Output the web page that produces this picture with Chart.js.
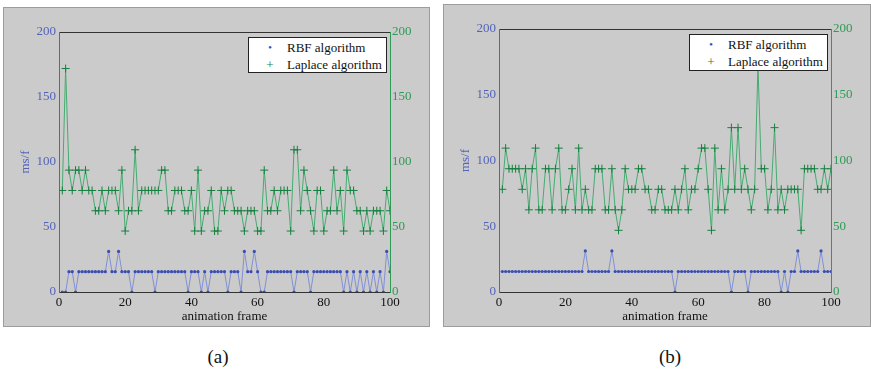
<!DOCTYPE html>
<html>
<head>
<meta charset="utf-8">
<script src="https://cdn.jsdelivr.net/npm/chart.js@4/dist/chart.umd.min.js"></script>
<style>
body { margin: 0; background: #fff; }
#wrap { position: relative; width: 871px; height: 372px; overflow: hidden; }
.panel { position: absolute; background: #cbcbcb; border: 1px solid #9c9c9c; box-sizing: border-box; }
canvas { position: absolute; }
.legend { position: absolute; width: 139px; height: 36px; background: #fff; border: 1px solid #222; box-sizing: border-box;
  font-family: 'Liberation Serif', 'Times New Roman', serif; font-size: 13px; color: #111; }
.legend .row { position: absolute; left: 38px; white-space: nowrap; line-height: 15px; }
.legend .mk { position: absolute; width: 12px; left: 15px; text-align: center; line-height: 15px; }
.caption { position: absolute; width: 60px; text-align: center; font-family: 'Liberation Serif', 'Times New Roman', serif;
  font-size: 19px; line-height: 22px; color: #111; }
</style>
</head>
<body>
<div id="wrap">
  <div class="panel" style="left:3px;top:7px;width:427px;height:320px"></div>
  <canvas id="chart_a" width="427" height="320" style="left:3px;top:7px"></canvas>
  <div class="legend" style="left:248px;top:37px">
    <span class="mk" style="top:2px;color:#3a4db0;font-size:6px">&#9679;</span><span class="row" style="top:2px">RBF algorithm</span>
    <span class="mk" style="top:19px;color:#17803f">+</span><span class="row" style="top:19px">Laplace algorithm</span>
  </div>
  <div class="caption" style="left:188px;top:346px">(a)</div>

  <div class="panel" style="left:443px;top:4px;width:428px;height:323px"></div>
  <canvas id="chart_b" width="428" height="323" style="left:443px;top:4px"></canvas>
  <div class="legend" style="left:689px;top:34px;height:37px">
    <span class="mk" style="top:2px;color:#3a4db0;font-size:6px">&#9679;</span><span class="row" style="top:2px">RBF algorithm</span>
    <span class="mk" style="top:19px;color:#17803f">+</span><span class="row" style="top:19px">Laplace algorithm</span>
  </div>
  <div class="caption" style="left:640px;top:346px">(b)</div>
</div>
<script>
// animation frame numbers (x axis)
var frames = [1, 2, 3, 4, 5, 6, 7, 8, 9, 10, 11, 12, 13, 14, 15, 16, 17, 18, 19, 20,
  21, 22, 23, 24, 25, 26, 27, 28, 29, 30, 31, 32, 33, 34, 35, 36, 37, 38, 39, 40,
  41, 42, 43, 44, 45, 46, 47, 48, 49, 50, 51, 52, 53, 54, 55, 56, 57, 58, 59, 60,
  61, 62, 63, 64, 65, 66, 67, 68, 69, 70, 71, 72, 73, 74, 75, 76, 77, 78, 79, 80,
  81, 82, 83, 84, 85, 86, 87, 88, 89, 90, 91, 92, 93, 94, 95, 96, 97, 98, 99, 100];

// (a) ms per frame
var rbf_a = [0, 0, 15.6, 15.6, 0, 15.6, 15.6, 15.6, 15.6, 15.6, 15.6, 15.6, 15.6, 15.6, 31.25, 15.6, 15.6, 31.25, 15.6, 15.6,
  15.6, 0, 15.6, 15.6, 15.6, 15.6, 15.6, 15.6, 0, 15.6, 15.6, 15.6, 15.6, 15.6, 15.6, 15.6, 15.6, 15.6, 0, 15.6,
  15.6, 15.6, 0, 15.6, 0, 15.6, 15.6, 15.6, 15.6, 15.6, 0, 15.6, 15.6, 15.6, 0, 31.25, 15.6, 15.6, 31.25, 15.6,
  0, 0, 15.6, 15.6, 15.6, 15.6, 15.6, 15.6, 15.6, 15.6, 0, 15.6, 15.6, 15.6, 15.6, 0, 15.6, 15.6, 15.6, 15.6,
  15.6, 15.6, 15.6, 15.6, 15.6, 0, 15.6, 0, 15.6, 0, 15.6, 0, 15.6, 0, 15.6, 0, 15.6, 0, 31.25, 15.6];
var laplace_a = [78.1, 171.9, 93.75, 78.1, 93.75, 93.75, 78.1, 93.75, 78.1, 78.1, 62.5, 62.5, 78.1, 62.5, 78.1, 78.1, 78.1, 62.5, 93.75, 46.9,
  62.5, 62.5, 109.4, 62.5, 78.1, 78.1, 78.1, 78.1, 78.1, 78.1, 93.75, 93.75, 62.5, 62.5, 78.1, 78.1, 78.1, 62.5, 62.5, 78.1,
  46.9, 93.75, 46.9, 62.5, 62.5, 78.1, 46.9, 46.9, 78.1, 62.5, 78.1, 78.1, 62.5, 62.5, 62.5, 46.9, 62.5, 62.5, 62.5, 46.9,
  46.9, 93.75, 62.5, 62.5, 78.1, 62.5, 78.1, 78.1, 78.1, 46.9, 109.4, 109.4, 62.5, 93.75, 78.1, 62.5, 46.9, 78.1, 78.1, 46.9,
  62.5, 62.5, 93.75, 62.5, 78.1, 46.9, 93.75, 78.1, 78.1, 62.5, 62.5, 46.9, 62.5, 46.9, 62.5, 62.5, 62.5, 46.9, 78.1, 62.5];

// (b) ms per frame
var rbf_b = [15.6, 15.6, 15.6, 15.6, 15.6, 15.6, 15.6, 15.6, 15.6, 15.6, 15.6, 15.6, 15.6, 15.6, 15.6, 15.6, 15.6, 15.6, 15.6, 15.6,
  15.6, 15.6, 15.6, 15.6, 15.6, 31.25, 15.6, 15.6, 15.6, 15.6, 15.6, 15.6, 15.6, 31.25, 15.6, 15.6, 15.6, 15.6, 15.6, 15.6,
  15.6, 15.6, 15.6, 15.6, 15.6, 15.6, 15.6, 15.6, 15.6, 15.6, 15.6, 15.6, 0, 15.6, 15.6, 15.6, 15.6, 15.6, 15.6, 15.6,
  15.6, 15.6, 15.6, 15.6, 15.6, 15.6, 15.6, 15.6, 15.6, 0, 15.6, 15.6, 15.6, 15.6, 0, 15.6, 15.6, 15.6, 15.6, 15.6,
  15.6, 15.6, 15.6, 15.6, 0, 15.6, 0, 15.6, 15.6, 31.25, 15.6, 15.6, 15.6, 15.6, 15.6, 15.6, 31.25, 15.6, 15.6, 15.6];
var laplace_b = [78.1, 109.4, 93.75, 93.75, 93.75, 93.75, 78.1, 93.75, 62.5, 93.75, 109.4, 62.5, 62.5, 93.75, 93.75, 62.5, 93.75, 109.4, 62.5, 62.5,
  78.1, 93.75, 62.5, 109.4, 62.5, 78.1, 62.5, 62.5, 93.75, 93.75, 93.75, 62.5, 62.5, 93.75, 62.5, 46.9, 62.5, 93.75, 78.1, 78.1,
  78.1, 93.75, 93.75, 78.1, 78.1, 62.5, 62.5, 78.1, 78.1, 62.5, 62.5, 62.5, 78.1, 62.5, 78.1, 93.75, 62.5, 78.1, 78.1, 93.75,
  109.4, 109.4, 78.1, 46.9, 109.4, 62.5, 93.75, 62.5, 78.1, 125, 78.1, 125, 78.1, 93.75, 78.1, 62.5, 78.1, 171.9, 93.75, 93.75,
  62.5, 78.1, 125, 62.5, 78.1, 62.5, 78.1, 78.1, 78.1, 78.1, 46.9, 93.75, 93.75, 93.75, 93.75, 78.1, 78.1, 93.75, 78.1, 93.75];

var x_ticks = [0, 20, 40, 60, 80, 100];
var y_ticks = [0, 50, 100, 150, 200];

var serif = "'Liberation Serif', 'Times New Roman', serif";
var blue_text = '#5363b9';
var green_text = '#2f9a55';

function toPoints(values) {
    var pts = [];
    for (var i = 0; i < values.length; i++) {
        pts.push({ x: frames[i], y: values[i] });
    }
    return pts;
}

function fixedTicks(list) {
    return function (axis) {
        axis.ticks = list.map(function (v) { return { value: v }; });
    };
}

function buildPanelChart(canvasId, rbf, laplace, topPad, xHeight) {
    var ctx = document.getElementById(canvasId);
    return new Chart(ctx, {
        type: 'line',
        data: {
            datasets: [{
                label: 'RBF algorithm',
                data: toPoints(rbf),
                yAxisID: 'y',
                borderColor: '#8090d6',
                borderWidth: 1,
                pointStyle: 'circle',
                pointRadius: 1.6,
                pointBackgroundColor: '#3a4db0',
                pointBorderColor: '#3a4db0',
                pointBorderWidth: 0,
                fill: false
            }, {
                label: 'Laplace algorithm',
                data: toPoints(laplace),
                yAxisID: 'y1',
                borderColor: '#45ac70',
                borderWidth: 1,
                pointStyle: 'cross',
                pointRadius: 4,
                pointBorderColor: '#17803f',
                pointBorderWidth: 1,
                fill: false
            }]
        },
        options: {
            responsive: false,
            animation: false,
            layout: { padding: { top: topPad, left: 0, right: 0, bottom: 0 } },
            plugins: {
                legend: { display: false },
                tooltip: { enabled: false }
            },
            scales: {
                x: {
                    type: 'linear',
                    position: 'bottom',
                    min: 0,
                    max: 100,
                    afterBuildTicks: fixedTicks(x_ticks),
                    ticks: { color: '#111', font: { family: serif, size: 13 }, padding: 3, maxRotation: 0 },
                    grid: { drawOnChartArea: false, drawTicks: false },
                    border: { color: '#333' },
                    title: { display: true, text: 'animation frame', color: '#111', font: { family: serif, size: 13 }, padding: { top: 0, bottom: 3 } },
                    afterFit: function (s) { s.height = xHeight; }
                },
                x2: {
                    type: 'linear',
                    position: 'top',
                    min: 0,
                    max: 100,
                    ticks: { display: false },
                    grid: { drawOnChartArea: false, drawTicks: false },
                    border: { color: '#333' },
                    afterFit: function (s) { s.height = 0; }
                },
                y: {
                    position: 'left',
                    min: 0,
                    max: 200,
                    afterBuildTicks: fixedTicks(y_ticks),
                    ticks: { color: blue_text, font: { family: serif, size: 13 }, padding: 3 },
                    grid: { drawOnChartArea: false, drawTicks: false },
                    border: { color: blue_text },
                    title: { display: true, text: 'ms/f', color: blue_text, font: { family: serif, size: 13 }, padding: { top: 15, bottom: 0 } },
                    afterFit: function (s) { s.width = 56; }
                },
                y1: {
                    position: 'right',
                    min: 0,
                    max: 200,
                    afterBuildTicks: fixedTicks(y_ticks),
                    ticks: { color: green_text, font: { family: serif, size: 13 }, padding: 2 },
                    grid: { drawOnChartArea: false, drawTicks: false },
                    border: { color: green_text },
                    afterFit: function (s) { s.width = 40; }
                }
            }
        }
    });
}

buildPanelChart('chart_a', rbf_a, laplace_a, 25, 35);
buildPanelChart('chart_b', rbf_b, laplace_b, 25, 35);
</script>
</body>
</html>
